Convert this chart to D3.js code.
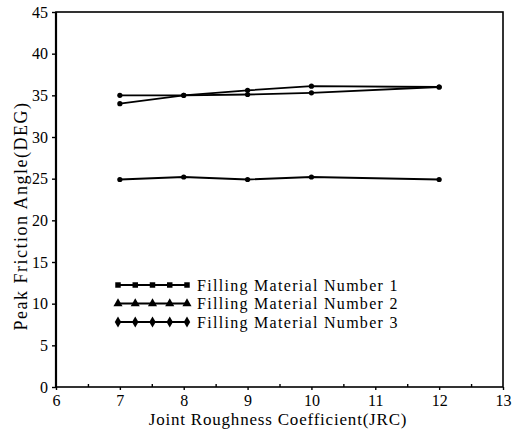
<!DOCTYPE html>
<html>
<head>
<meta charset="utf-8">
<script src="https://cdn.jsdelivr.net/npm/d3@7/dist/d3.min.js"></script>
<style>
  html, body { margin: 0; padding: 0; background: #fff; }
  svg { display: block; }
  text { font-family: "Liberation Serif", "DejaVu Serif", serif; fill: #000; }
</style>
</head>
<body>
<svg id="chart" width="513" height="436"></svg>
<script>
// Joint roughness coefficient at which each test was run
const jrc = [7, 8, 9, 10, 12];
// Peak friction angle (degrees) for each filling material
const material1 = [35.0, 35.0, 35.6, 36.1, 36.0];
const material2 = [34.0, 35.0, 35.1, 35.3, 36.0];
const material3 = [24.9, 25.2, 24.9, 25.2, 24.9];
const seriesNames = ["Filling Material Number 1", "Filling Material Number 2", "Filling Material Number 3"];
const xTicks = [6, 7, 8, 9, 10, 11, 12, 13];
const yTicks = [0, 5, 10, 15, 20, 25, 30, 35, 40, 45];

const svg = d3.select("#chart");
const plotL = 56, plotR = 503, plotT = 12, plotB = 387;

const x = d3.scaleLinear().domain([6, 13]).range([plotL, plotR]);
const y = d3.scaleLinear().domain([0, 45]).range([plotB, plotT]);

const g = svg.append("g");

// frame
g.append("rect")
  .attr("x", plotL).attr("y", plotT)
  .attr("width", plotR - plotL).attr("height", plotB - plotT)
  .attr("fill", "none").attr("stroke", "#000").attr("stroke-width", 1.6);
g.append("line").attr("x1", plotL).attr("x2", plotL).attr("y1", plotT).attr("y2", plotB)
  .attr("stroke", "#000").attr("stroke-width", 2.2);

// y axis
const yAxis = d3.axisLeft(y).tickValues(yTicks).tickSize(4).tickPadding(4).tickFormat(d3.format("d"));
const ya = g.append("g").attr("transform", `translate(${plotL},0)`).call(yAxis);
ya.select(".domain").remove();
ya.selectAll("line").attr("stroke", "#000").attr("stroke-width", 1.4);
ya.selectAll("text").style("font-family", "Liberation Serif, serif").style("font-size", "16px");

// x axis, integer ticks below
const xAxis = d3.axisBottom(x).tickValues(xTicks).tickSize(3).tickPadding(5).tickFormat(d3.format("d"));
const xa = g.append("g").attr("transform", `translate(0,${plotB})`).call(xAxis);
xa.select(".domain").remove();
xa.selectAll("line").attr("stroke", "#000").attr("stroke-width", 1.4);
xa.selectAll("text").style("font-family", "Liberation Serif, serif").style("font-size", "16px");

// half-step ticks pointing inward
const xMinor = d3.axisTop(x).tickValues(d3.range(6.5, 13, 1)).tickSize(3).tickFormat("");
const xm = g.append("g").attr("transform", `translate(0,${plotB})`).call(xMinor);
xm.select(".domain").remove();
xm.selectAll("line").attr("stroke", "#000").attr("stroke-width", 1.4);

// axis titles
svg.append("text")
  .attr("x", 278).attr("y", 425)
  .attr("text-anchor", "middle").style("font-size", "17px").style("letter-spacing", "0.8px")
  .text("Joint Roughness Coefficient(JRC)");
svg.append("text")
  .attr("transform", "translate(27,216) rotate(-90)")
  .attr("text-anchor", "middle").style("font-size", "18px").style("letter-spacing", "1.5px")
  .text("Peak Friction Angle(DEG)");

const series = [material1, material2, material3];
const symbols = [d3.symbolSquare, d3.symbolTriangle, d3.symbolDiamond];
const line = d3.line().x((d, i) => x(jrc[i])).y(d => y(d));

series.forEach((vals, si) => {
  g.append("path").datum(vals)
    .attr("d", line).attr("fill", "none")
    .attr("stroke", "#000").attr("stroke-width", 1.8);
  g.selectAll(null).data(vals).enter().append("circle")
    .attr("cx", (d, i) => x(jrc[i])).attr("cy", d => y(d))
    .attr("r", 2.6).attr("fill", "#000");
});

// legend
const legY = [285, 303.5, 322];
seriesNames.forEach((name, i) => {
  const lg = svg.append("g").attr("transform", `translate(0,${legY[i]})`);
  lg.append("line").attr("x1", 116).attr("x2", 187).attr("y1", 0).attr("y2", 0)
    .attr("stroke", "#000").attr("stroke-width", 1.8);
  d3.range(5).forEach(k => {
    lg.append("path")
      .attr("transform", `translate(${118 + k * 17.25},0)`)
      .attr("d", d3.symbol().type(symbols[i]).size(i === 0 ? 30 : 36)())
      .attr("fill", "#000");
  });
  lg.append("text").attr("x", 197).attr("y", 5.5).style("font-size", "16px")
    .style("letter-spacing", "1.3px").text(name);
});
</script>
</body>
</html>
